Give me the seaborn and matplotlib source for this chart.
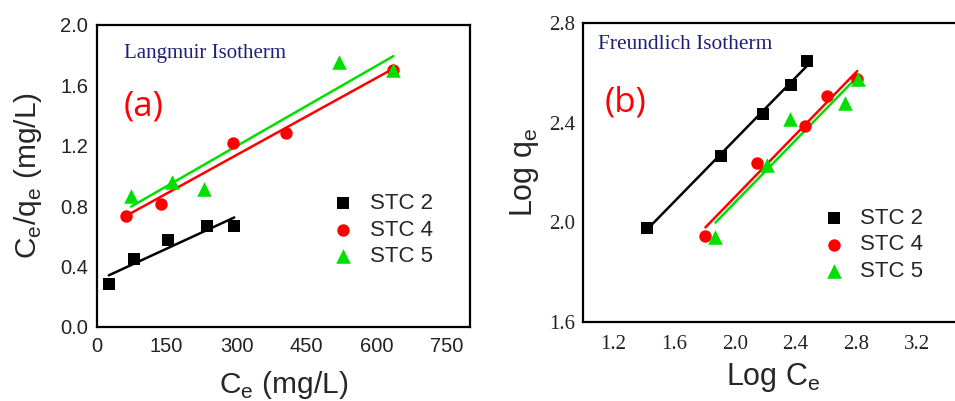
import numpy as np
import pandas as pd
import matplotlib
matplotlib.use("Agg")
import matplotlib.pyplot as plt
import seaborn as sns

# ---- data: Langmuir (a) ----
la_stc2_x = [26, 80, 153, 236, 295]
la_stc2_y = [0.283, 0.447, 0.575, 0.670, 0.670]
la_stc4_x = [62, 138, 293, 405, 636]
la_stc4_y = [0.734, 0.813, 1.220, 1.282, 1.700]
la_stc5_x = [74, 161, 231, 519, 636]
la_stc5_y = [0.867, 0.961, 0.915, 1.757, 1.700]

# ---- data: Freundlich (b) ----
fr_stc2_x = [1.420, 1.908, 2.183, 2.370, 2.472]
fr_stc2_y = [1.978, 2.268, 2.435, 2.552, 2.648]
fr_stc4_x = [1.805, 2.142, 2.465, 2.608, 2.806]
fr_stc4_y = [1.944, 2.239, 2.387, 2.508, 2.576]
fr_stc5_x = [1.871, 2.208, 2.366, 2.725, 2.813]
fr_stc5_y = [1.940, 2.230, 2.414, 2.478, 2.576]

labels = ["STC 2", "STC 4", "STC 5"]
colors = ["#000000", "#FF0000", "#00E000"]
markers = ["s", "o", "^"]
msizes = [64, 80, 110]

a_ticks_x = [0, 150, 300, 450, 600, 750]
a_ticks_y = [0.0, 0.4, 0.8, 1.2, 1.6, 2.0]
b_ticks_x = [1.2, 1.6, 2.0, 2.4, 2.8, 3.2]
b_ticks_y = [1.6, 2.0, 2.4, 2.8]

sns.set_style("white")
plt.rcParams['font.family'] = ['Liberation Sans', 'DejaVu Sans']

fig = plt.figure(figsize=(9.55, 4.01), dpi=100)
axA = fig.add_axes([0.1012, 0.185, 0.3908, 0.753])
axB = fig.add_axes([0.6108, 0.198, 0.397, 0.744])


def draw(ax, xs, ys):
    for x, y, lab, c, m, s in zip(xs, ys, labels, colors, markers, msizes):
        df = pd.DataFrame({"x": x, "y": y})
        sns.regplot(data=df, x="x", y="y", ax=ax, scatter=False, ci=None,
                    color=c, line_kws={"lw": 1.8})
        sns.scatterplot(data=df, x="x", y="y", ax=ax, color=c, marker=m,
                        s=s, edgecolor=c, linewidth=0, label=lab, zorder=3)


draw(axA, [la_stc2_x, la_stc4_x, la_stc5_x], [la_stc2_y, la_stc4_y, la_stc5_y])
draw(axB, [fr_stc2_x, fr_stc4_x, fr_stc5_x], [fr_stc2_y, fr_stc4_y, fr_stc5_y])

# ---- axes (a) ----
axA.set_xlim(0, 800)
axA.set_ylim(0, 2.0)
axA.set_xticks(a_ticks_x)
axA.set_yticks(a_ticks_y)
axA.set_xticklabels([str(v) for v in a_ticks_x])
axA.set_yticklabels([f"{v:.1f}" for v in a_ticks_y])
axA.tick_params(axis="both", direction="out", length=4, width=1.5,
                labelsize=14.5, colors="black", pad=2, labelcolor="#222222")
axA.tick_params(axis="x", pad=3)
axA.set_xlabel(r"C$_\mathregular{e}$ (mg/L)", fontsize=21.5, labelpad=10)
axA.set_ylabel(r"C$_\mathregular{e}$/q$_\mathregular{e}$ (mg/L)", fontsize=21.5, labelpad=12)
axA.text(0.072, 0.905, "Langmuir Isotherm", transform=axA.transAxes,
         fontsize=15, family="Liberation Serif", color="#1F1F7A", va="center")
axA.text(0.072, 0.73, "(a)", transform=axA.transAxes, fontsize=25,
         family="Open Sans", color="#FF0000", va="center")

# ---- axes (b) ----
axB.set_xlim(1.0, 3.5)
axB.set_ylim(1.6, 2.8)
axB.set_xticks(b_ticks_x)
axB.set_yticks(b_ticks_y)
axB.set_xticklabels([f"{v:.1f}" for v in b_ticks_x], family="Liberation Serif")
axB.set_yticklabels([f"{v:.1f}" for v in b_ticks_y], family="Liberation Serif")
axB.tick_params(axis="both", direction="out", length=4, width=1.5,
                labelsize=15, colors="black", pad=2, labelcolor="#222222")
axB.tick_params(axis="x", pad=6)
axB.set_xlabel(r"Log C$_\mathregular{e}$", fontsize=22, labelpad=5)
axB.set_ylabel(r"Log q$_\mathregular{e}$", fontsize=22, labelpad=6)
axB.text(0.04, 0.93, "Freundlich Isotherm", transform=axB.transAxes,
         fontsize=15.4, family="Liberation Serif", color="#1F1F7A", va="center")
axB.text(0.055, 0.735, "(b)", transform=axB.transAxes, fontsize=25,
         family="Open Sans", color="#FF0000", va="center")

for ax in (axA, axB):
    for sp in ax.spines.values():
        sp.set_linewidth(1.6)
        sp.set_color("black")
        sp.set_visible(True)
    ax.grid(False)

leg_kw = dict(frameon=False, fontsize=16, handletextpad=0.6, labelspacing=0.25,
              borderaxespad=0, borderpad=0, handlelength=1.2)
axA.legend(loc="center left", bbox_to_anchor=(0.625, 0.32), **leg_kw)
axB.legend(loc="center left", bbox_to_anchor=(0.625, 0.257), **leg_kw)

fig.savefig("out.png", dpi=100)
